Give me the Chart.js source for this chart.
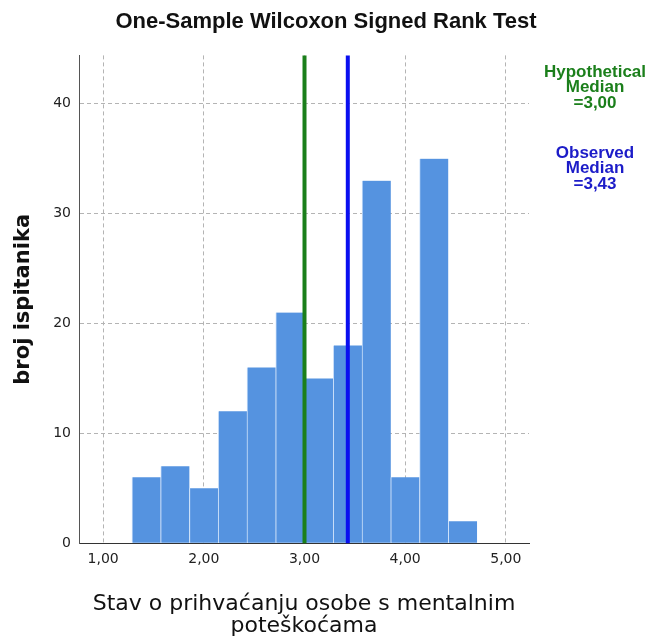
<!DOCTYPE html>
<html>
<head>
<meta charset="utf-8">
<script src="https://cdn.jsdelivr.net/npm/chart.js@4"></script>
<style>
  html, body { margin: 0; padding: 0; background: #fff; }
  #wrap { width: 652px; height: 637px; }
</style>
</head>
<body>
<div id="wrap"><canvas id="chart"></canvas></div>
<script>
// histogram bins (edges) and counts
const binEdges = [1.2857, 1.5714, 1.8571, 2.1429, 2.4286, 2.7143, 3.0, 3.2857, 3.5714, 3.8571, 4.1429, 4.4286, 4.7143];
const counts = [6, 7, 5, 12, 16, 21, 15, 18, 33, 6, 35, 2];
const xTicks = [1, 2, 3, 4, 5];
const yTicks = [0, 10, 20, 30, 40];
const hypotheticalMedian = 3.00;
const observedMedian = 3.43;

const fmt = v => v.toFixed(2).replace('.', ',');
const ARIAL = "'Liberation Sans', Arial, sans-serif";
const WIDE = "'DejaVu Sans', Verdana, sans-serif";

const points = counts.map((c, i) => ({ x: (binEdges[i] + binEdges[i + 1]) / 2, y: c }));

// vertical median lines + side labels
const medianPlugin = {
  id: 'medians',
  afterDatasetsDraw(chart) {
    const { ctx, chartArea, scales: { x } } = chart;
    const lines = [[hypotheticalMedian, '#1b7f1b'], [observedMedian, '#0a0ff0']];
    ctx.save();
    lines.forEach(([v, col]) => {
      const px = x.getPixelForValue(v);
      ctx.strokeStyle = col;
      ctx.lineWidth = 4;
      ctx.beginPath();
      ctx.moveTo(px, chartArea.top);
      ctx.lineTo(px, chartArea.bottom);
      ctx.stroke();
    });
    ctx.restore();
  },
  afterDraw(chart) {
    const { ctx } = chart;
    const cx = 595;
    ctx.save();
    ctx.font = "bold 17px " + ARIAL;
    ctx.textAlign = 'center';
    ctx.textBaseline = 'middle';
    ctx.fillStyle = '#1b7f1b';
    ['Hypothetical', 'Median', '=' + fmt(hypotheticalMedian)].forEach((t, i) => ctx.fillText(t, cx, 72 + i * 15.5));
    ctx.fillStyle = '#1c1cc8';
    ['Observed', 'Median', '=' + fmt(observedMedian)].forEach((t, i) => ctx.fillText(t, cx, 153 + i * 15.5));
    ctx.restore();
  }
};

new Chart(document.getElementById('chart'), {
  type: 'bar',
  data: {
    datasets: [{
      data: points,
      backgroundColor: '#5593e0',
      borderColor: '#cfe2fa',
      borderWidth: { left: 1, right: 0, top: 0, bottom: 0 },
      borderSkipped: false,
      barPercentage: 1,
      categoryPercentage: 1
    }]
  },
  options: {
    responsive: true,
    maintainAspectRatio: false,
    animation: false,
    layout: { padding: 0 },
    plugins: {
      legend: { display: false },
      tooltip: { enabled: false },
      title: {
        display: true,
        text: 'One-Sample Wilcoxon Signed Rank Test',
        color: '#111',
        font: { family: ARIAL, size: 22, weight: 'bold' },
        padding: { top: 9, bottom: 20 }
      }
    },
    scales: {
      x: {
        type: 'linear',
        min: 0.76,
        max: 5.23,
        offset: false,
        afterBuildTicks: axis => { axis.ticks = xTicks.map(v => ({ value: v })); },
        grid: { color: '#b4b4b4', offset: false, drawTicks: false },
        border: { color: '#333', width: 1, dash: [4, 3] },
        ticks: {
          color: '#222',
          padding: 8,
          font: { family: WIDE, size: 14 },
          callback: v => fmt(v)
        },
        title: {
          display: true,
          text: ['Stav o prihvaćanju osobe s mentalnim', 'poteškoćama'],
          color: '#111',
          font: { family: WIDE, size: 22, lineHeight: 1.0 },
          padding: { top: 17, bottom: 0 }
        }
      },
      y: {
        min: 0,
        max: 44.4,
        afterBuildTicks: axis => { axis.ticks = yTicks.map(v => ({ value: v })); },
        grid: { color: '#b4b4b4', drawTicks: false },
        border: { color: '#555', width: 1, dash: [4, 3] },
        ticks: {
          color: '#222',
          padding: 8,
          font: { family: WIDE, size: 14 }
        },
        title: {
          display: true,
          text: 'broj ispitanika',
          color: '#111',
          font: { family: WIDE, size: 21, weight: 'bold' },
          padding: { top: 11, bottom: 9 }
        }
      },
      // empty right-hand axis that keeps room for the median labels
      side: {
        position: 'right',
        display: true,
        grid: { display: false },
        border: { display: false },
        ticks: { display: false },
        afterFit: s => { s.width = 123; }
      }
    }
  },
  plugins: [medianPlugin]
});
</script>
</body>
</html>
